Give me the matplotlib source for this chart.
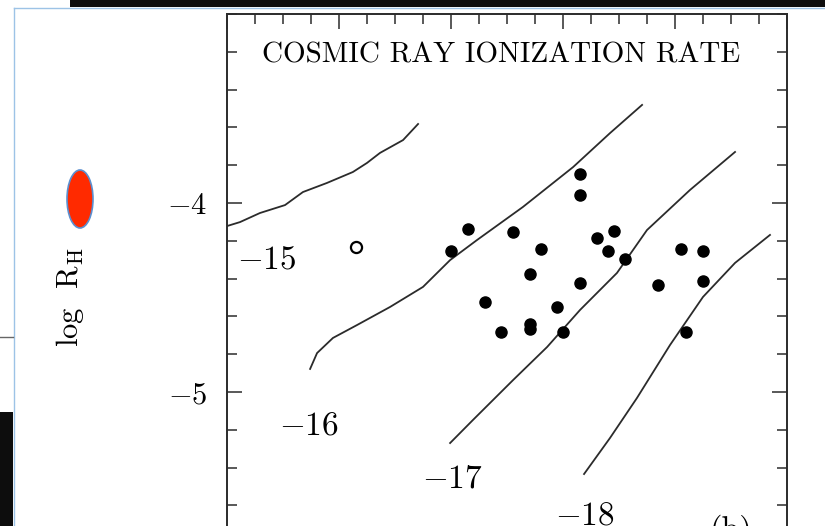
import matplotlib
matplotlib.use('Agg')
from matplotlib import pyplot as plt
from matplotlib.patches import Rectangle, Ellipse
from matplotlib.lines import Line2D
from matplotlib.ticker import MultipleLocator

plt.rcParams['mathtext.fontset'] = 'cm'
plt.rcParams['axes.formatter.use_mathtext'] = True

# observed sources (filled) and the one open point
obs_x = [-0.924, -0.924, -1.424, -1.500, -1.223, -1.098, -0.848, -0.772, -0.799, -0.723,
         -0.473, -0.375, -1.147, -0.924, -0.576, -0.375, -1.348, -1.027, -1.277, -1.147,
         -1.147, -1.000, -0.451]
obs_y = [-3.847, -3.958, -4.138, -4.254, -4.153, -4.243, -4.185, -4.148, -4.254, -4.296,
         -4.243, -4.254, -4.376, -4.423, -4.434, -4.413, -4.524, -4.550, -4.683, -4.640,
         -4.667, -4.683, -4.683]
open_x = [-1.924]
open_y = [-4.233]

# model curves for log zeta = -15 .. -18
c15_x = [-2.500, -2.442, -2.353, -2.241, -2.161, -2.054, -1.938, -1.875, -1.817, -1.714, -1.647]
c15_y = [-4.122, -4.101, -4.053, -4.011, -3.942, -3.894, -3.836, -3.788, -3.735, -3.667, -3.582]
c16_x = [-2.129, -2.098, -2.027, -1.920, -1.772, -1.625, -1.504, -1.384, -1.179, -0.955, -0.790, -0.647]
c16_y = [-4.878, -4.794, -4.714, -4.646, -4.550, -4.444, -4.302, -4.196, -4.021, -3.810, -3.630, -3.481]
c17_x = [-1.504, -1.402, -1.223, -1.071, -0.924, -0.759, -0.625, -0.433, -0.232]
c17_y = [-5.270, -5.148, -4.937, -4.762, -4.566, -4.370, -4.143, -3.931, -3.730]
c18_x = [-0.906, -0.790, -0.670, -0.522, -0.375, -0.232, -0.076]
c18_y = [-5.434, -5.243, -5.032, -4.751, -4.497, -4.317, -4.169]

curve_names = ['-15', '-16', '-17', '-18']
label_x = [-2.321, -2.134, -1.496, -0.902]
label_y = [-4.296, -5.175, -5.455, -5.651]

ytick_vals = [-5, -4]
ytick_text = [r'$-5$', r'$-4$']

W, H = 825, 526
fig = plt.figure(figsize=(W / 100, H / 100), dpi=100)
fig.patch.set_facecolor('white')

def fx(x):
	return x / W

def fy(y):
	return 1 - y / H

ax = fig.add_axes([fx(227), fy(581), (787 - 227) / W, (581 - 14) / H])
ax.set_xlim(-2.5, 0)
ax.set_ylim(-6, -3)

ink = '#2b2b2b'
for c_x, c_y in [(c15_x, c15_y), (c16_x, c16_y), (c17_x, c17_y), (c18_x, c18_y)]:
	ax.plot(c_x, c_y, color=ink, lw=1.3)

ax.plot(obs_x, obs_y, 'o', color='black', ms=8)
ax.plot(open_x, open_y, 'o', mfc='white', mec='black', mew=1.6, ms=8)

for name, lx, ly in zip(curve_names, label_x, label_y):
	ax.text(lx, ly, '$' + name + '$', fontsize=24, ha='center', va='center')

ax.text(-0.25, -5.73, '(b)', family='cmr10', fontsize=23, ha='center', va='center')
ax.text(-1.274, -3.22, 'COSMIC RAY IONIZATION RATE', family='cmr10', fontsize=21,
		ha='center', va='center')

for s in ax.spines.values():
	s.set_linewidth(1.4)
	s.set_color(ink)

ax.xaxis.set_major_locator(MultipleLocator(0.5))
ax.xaxis.set_minor_locator(MultipleLocator(0.125))
ax.set_yticks(ytick_vals, labels=ytick_text)
ax.yaxis.set_minor_locator(MultipleLocator(0.2))
ax.tick_params(which='both', direction='in', top=True, right=True, color=ink, width=1.1)
ax.tick_params(which='major', length=11)
ax.tick_params(which='minor', length=7)
ax.tick_params(axis='y', labelsize=22, pad=14)
ax.tick_params(axis='x', labelbottom=False)

fig.text(fx(70), fy(297), r'$\log\;\;\mathrm{R}_{\rm H}$', fontsize=22, rotation=90,
		 ha='center', va='center')

# slide decorations around the scanned figure
fig.add_artist(Rectangle((fx(70), fy(7)), (W - 70) / W, 7 / H, transform=fig.transFigure,
						 facecolor='#0d0d0d', edgecolor='none'))
fig.add_artist(Rectangle((0, 0), 13 / W, (H - 412) / H, transform=fig.transFigure,
						 facecolor='#0d0d0d', edgecolor='none'))
fig.add_artist(Line2D([fx(14), 1], [fy(8), fy(8)], transform=fig.transFigure,
					  color='#9dc3e6', lw=1))
fig.add_artist(Line2D([fx(14), fx(14)], [fy(8), 0], transform=fig.transFigure,
					  color='#9dc3e6', lw=1))
fig.add_artist(Line2D([0, fx(13)], [fy(337), fy(337)], transform=fig.transFigure,
					  color='#666666', lw=1))
fig.add_artist(Ellipse((fx(80), fy(199)), 26 / W, 58 / H, transform=fig.transFigure,
					   facecolor='#ff2a00', edgecolor='#5b8fd0', lw=1.2))

fig.savefig('out.png', dpi=100)
